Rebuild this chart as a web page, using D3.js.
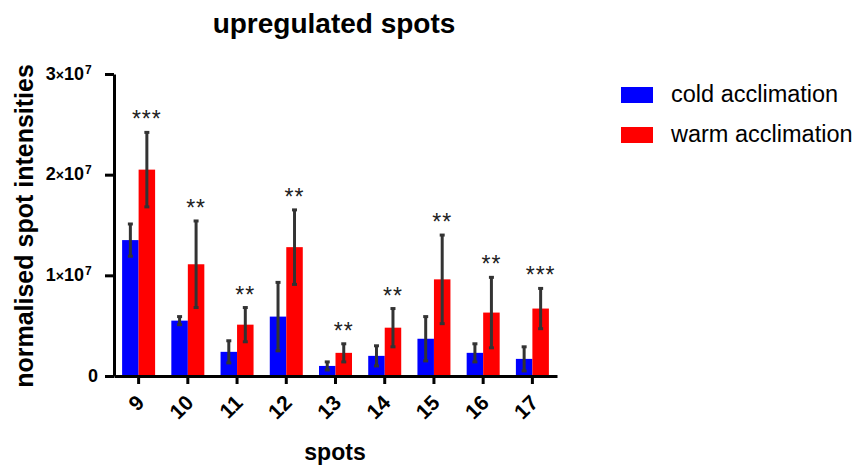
<!DOCTYPE html>
<html>
<head>
<meta charset="utf-8">
<script src="https://cdn.jsdelivr.net/npm/d3@7"></script>
<style>
  body { margin: 0; background: #fff; }
  text { font-family: "Liberation Sans", Arial, sans-serif; }
</style>
</head>
<body>
<script>
// data (units of 1e7)
var spots = ["9", "10", "11", "12", "13", "14", "15", "16", "17"]
var cold = [1.35, 0.55, 0.24, 0.59, 0.10, 0.20, 0.37, 0.23, 0.17]
var coldErr = [0.16, 0.04, 0.11, 0.34, 0.04, 0.10, 0.22, 0.09, 0.12]
var warm = [2.05, 1.11, 0.51, 1.28, 0.23, 0.48, 0.96, 0.63, 0.67]
var warmErr = [0.37, 0.43, 0.17, 0.37, 0.09, 0.19, 0.44, 0.35, 0.20]
var stars = ["***", "**", "**", "**", "**", "**", "**", "**", "***"]
var seriesNames = ["cold acclimation", "warm acclimation"]
var colors = ["#0000ff", "#ff0000"]
var yTicks = [0, 1, 2, 3]

var svg = d3.select("body").append("svg").attr("width", 856).attr("height", 467)

// scales
var x = d3.scaleBand().domain(spots).range([114, 557]).padding(0)
var xs = d3.scaleBand().domain([0, 1])
  .range([x.bandwidth() / 2 - 16.5, x.bandwidth() / 2 + 16.5])
var y = d3.scaleLinear().domain([0, 3]).range([376, 74])

// bars
var series = [
  {vals: cold, err: coldErr},
  {vals: warm, err: warmErr}
]

series.forEach(function(s, i) {
  svg.append("g").selectAll("rect")
    .data(spots)
    .enter().append("rect")
    .attr("x", function(d) { return x(d) + xs(i) })
    .attr("y", function(d, j) { return y(s.vals[j]) })
    .attr("width", xs.bandwidth())
    .attr("height", function(d, j) { return y(0) - y(s.vals[j]) })
    .attr("fill", colors[i])
})

// error bars
series.forEach(function(s, i) {
  var g = svg.append("g").attr("stroke", "#333").attr("stroke-width", 3)
  spots.forEach(function(d, j) {
    var cx = x(d) + xs(i) + xs.bandwidth() / 2
    var lo = y(Math.max(0, s.vals[j] - s.err[j]))
    var hi = y(s.vals[j] + s.err[j])
    g.append("line").attr("x1", cx).attr("x2", cx).attr("y1", lo).attr("y2", hi)
    g.append("line").attr("x1", cx - 2.5).attr("x2", cx + 2.5).attr("y1", hi).attr("y2", hi)
    g.append("line").attr("x1", cx - 2.5).attr("x2", cx + 2.5).attr("y1", lo).attr("y2", lo)
  })
})

// significance stars
svg.append("g").selectAll("text")
  .data(spots)
  .enter().append("text")
  .attr("x", function(d) { return x(d) + xs(1) + xs.bandwidth() / 2 })
  .attr("y", function(d, j) { return y(warm[j] + warmErr[j]) - 5 })
  .attr("text-anchor", "middle")
  .attr("font-size", 23)
  .attr("letter-spacing", 1)
  .attr("fill", "#222")
  .text(function(d, j) { return stars[j] })

// y axis
var yAxis = svg.append("g")
  .attr("transform", "translate(114,0)")
  .call(d3.axisLeft(y).tickValues(yTicks).tickSize(9).tickSizeOuter(0).tickPadding(6)
    .tickFormat(function(d) { return d === 0 ? "0" : "" }))
yAxis.select(".domain").attr("stroke-width", 3)
yAxis.selectAll(".tick line").attr("stroke-width", 3)
yAxis.selectAll(".tick text")
  .attr("font-size", 18).attr("font-weight", "bold").attr("fill", "#000")
  .attr("x", -16).attr("y", 5).attr("dy", 0)
// "n×10^7" labels: base, small times sign, then exponent
var sci = yAxis.selectAll(".tick text").filter(function(d) { return d > 0 })
  .attr("x", -30)
sci.append("tspan").text(function(d) { return d })
sci.append("tspan").attr("font-size", 14).text("\u00d7")
sci.append("tspan").text("10")
yAxis.selectAll(".tick").filter(function(d) { return d > 0 })
  .append("text")
  .attr("x", -29).attr("y", -1)
  .attr("text-anchor", "start")
  .attr("font-size", 12).attr("font-weight", "bold").attr("fill", "#000")
  .text("7")

// x axis
var xAxis = svg.append("g")
  .attr("transform", "translate(0,376)")
  .call(d3.axisBottom(x).tickSize(8).tickSizeOuter(0))
xAxis.select(".domain").attr("stroke-width", 3)
xAxis.selectAll(".tick line").attr("stroke-width", 3)
xAxis.selectAll(".tick text")
  .attr("x", 0).attr("y", 0).attr("dy", 0)
  .attr("transform", "translate(7,28) rotate(-45)")
  .attr("text-anchor", "end")
  .attr("font-size", 21).attr("font-weight", "bold").attr("fill", "#000")

// titles
svg.append("text")
  .attr("x", 334).attr("y", 33)
  .attr("text-anchor", "middle")
  .attr("font-size", 28).attr("font-weight", "bold")
  .text("upregulated spots")

svg.append("text")
  .attr("x", 335).attr("y", 460)
  .attr("text-anchor", "middle")
  .attr("font-size", 23).attr("font-weight", "bold")
  .text("spots")

svg.append("text")
  .attr("transform", "translate(33,226) rotate(-90)")
  .attr("text-anchor", "middle")
  .attr("font-size", 25).attr("font-weight", "bold")
  .text("normalised spot intensities")

// legend
var legend = svg.append("g").selectAll("g")
  .data(seriesNames)
  .enter().append("g")
  .attr("transform", function(d, i) { return "translate(621," + (87 + i * 40) + ")" })

legend.append("rect")
  .attr("width", 32).attr("height", 16)
  .attr("fill", function(d, i) { return colors[i] })

legend.append("text")
  .attr("x", 50).attr("y", 15)
  .attr("font-size", 23.5)
  .text(function(d) { return d })
</script>
</body>
</html>
